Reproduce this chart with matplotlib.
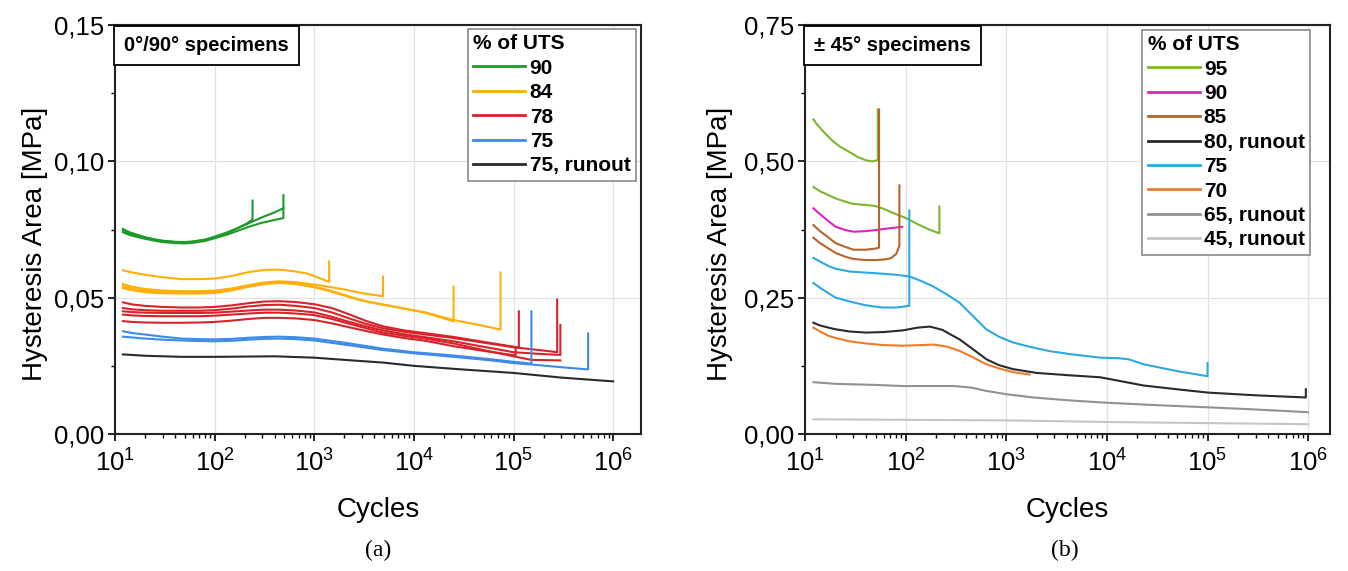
import matplotlib
matplotlib.use("Agg")
import matplotlib.pyplot as plt
import matplotlib.transforms as mtransforms
from matplotlib.ticker import NullFormatter, LogLocator, MultipleLocator, FuncFormatter

plt.rcParams['font.family'] = ['Liberation Sans', 'DejaVu Sans']

# ---------------- Panel (a): 0/90 specimens ----------------
N90_a = [12, 14, 17, 20, 25, 30, 40, 50, 60, 80, 100, 130, 170, 210, 240, 240]
H90_a = [0.0745, 0.0735, 0.0727, 0.0720, 0.0713, 0.0708, 0.0704, 0.0703, 0.0705, 0.0712, 0.0720, 0.0735, 0.0755, 0.0772, 0.0787, 0.0856]
N90_b = [12, 14, 17, 20, 25, 30, 40, 50, 60, 80, 100, 130, 170, 220, 300, 400, 490, 490]
H90_b = [0.0752, 0.0740, 0.0730, 0.0722, 0.0714, 0.0709, 0.0705, 0.0704, 0.0706, 0.0713, 0.0724, 0.0738, 0.0755, 0.0773, 0.0795, 0.0813, 0.0828, 0.0876]
N90_c = [12, 14, 17, 20, 25, 30, 40, 50, 60, 80, 100, 130, 170, 220, 300, 400, 490, 490]
H90_c = [0.0740, 0.0730, 0.0722, 0.0716, 0.0709, 0.0704, 0.0700, 0.0699, 0.0701, 0.0708, 0.0718, 0.0730, 0.0745, 0.0760, 0.0775, 0.0785, 0.0792, 0.0828]

N84_a = [12, 15, 20, 30, 47, 70, 100, 150, 220, 316, 450, 650, 870, 1100, 1410, 1410]
H84_a = [0.0600, 0.0592, 0.0584, 0.0575, 0.0568, 0.0568, 0.0570, 0.0580, 0.0594, 0.0602, 0.0603, 0.0596, 0.0588, 0.0573, 0.0558, 0.0633]
N84_b = [12, 15, 20, 30, 47, 70, 100, 150, 220, 316, 450, 650, 1000, 1400, 2000, 3000, 4900, 4900]
H84_b = [0.0550, 0.0540, 0.0532, 0.0526, 0.0524, 0.0524, 0.0526, 0.0534, 0.0546, 0.0556, 0.0560, 0.0557, 0.0548, 0.0540, 0.0530, 0.0517, 0.0505, 0.0577]
N84_c = [12, 15, 20, 30, 47, 70, 100, 150, 220, 316, 450, 650, 1000, 1400, 2000, 3000, 4900, 8000, 13000, 25000, 25000]
H84_c = [0.0542, 0.0533, 0.0526, 0.0520, 0.0518, 0.0518, 0.0520, 0.0530, 0.0542, 0.0552, 0.0556, 0.0552, 0.0540, 0.0528, 0.0510, 0.0490, 0.0475, 0.0460, 0.0445, 0.0413, 0.0540]
N84_d = [12, 15, 20, 30, 47, 70, 100, 150, 220, 316, 450, 650, 1000, 1400, 2000, 3000, 4900, 8000, 13000, 25000, 45000, 74000, 74000]
H84_d = [0.0535, 0.0527, 0.0520, 0.0516, 0.0515, 0.0515, 0.0517, 0.0527, 0.0540, 0.0550, 0.0554, 0.0550, 0.0538, 0.0525, 0.0508, 0.0490, 0.0474, 0.0460, 0.0446, 0.0418, 0.0400, 0.0383, 0.0592]

N78_a = [12, 15, 20, 30, 47, 70, 100, 150, 220, 316, 450, 650, 1000, 1500, 2200, 3300, 4900, 8000, 13000, 25000, 50000, 113000, 113000]
H78_a = [0.0483, 0.0475, 0.0470, 0.0466, 0.0464, 0.0464, 0.0466, 0.0472, 0.0480, 0.0486, 0.0487, 0.0484, 0.0476, 0.0462, 0.0440, 0.0415, 0.0395, 0.0380, 0.0370, 0.0356, 0.0338, 0.0317, 0.0450]
N78_b = [12, 15, 20, 30, 47, 70, 100, 150, 220, 316, 450, 650, 1000, 1500, 2200, 3300, 4900, 8000, 13000, 25000, 50000, 100000, 180000, 274000, 274000]
H78_b = [0.0462, 0.0457, 0.0454, 0.0452, 0.0452, 0.0452, 0.0454, 0.0460, 0.0468, 0.0473, 0.0474, 0.0470, 0.0462, 0.0446, 0.0425, 0.0404, 0.0388, 0.0375, 0.0365, 0.0352, 0.0335, 0.0318, 0.0308, 0.0300, 0.0493]
N78_c = [12, 15, 20, 30, 47, 70, 100, 150, 220, 316, 450, 650, 1000, 1500, 2200, 3300, 4900, 8000, 13000, 25000, 50000, 100000, 180000, 295000, 295000]
H78_c = [0.0450, 0.0447, 0.0445, 0.0444, 0.0444, 0.0444, 0.0445, 0.0449, 0.0453, 0.0456, 0.0456, 0.0453, 0.0446, 0.0430, 0.0412, 0.0395, 0.0380, 0.0366, 0.0355, 0.0340, 0.0320, 0.0300, 0.0294, 0.0290, 0.0400]
N78_d = [12, 15, 20, 30, 47, 70, 100, 150, 220, 316, 450, 650, 1000, 1500, 2200, 3300, 4900, 8000, 13000, 25000, 50000, 100000, 150000, 295000]
H78_d = [0.0438, 0.0435, 0.0433, 0.0432, 0.0432, 0.0432, 0.0434, 0.0438, 0.0442, 0.0445, 0.0445, 0.0442, 0.0436, 0.0422, 0.0405, 0.0388, 0.0372, 0.0360, 0.0350, 0.0332, 0.0308, 0.0285, 0.0272, 0.0270]
N78_e = [12, 15, 20, 30, 47, 70, 100, 150, 220, 316, 450, 650, 1000, 1500, 2200, 3300, 4900, 8000, 13000, 25000, 50000, 105000, 105000]
H78_e = [0.0414, 0.0411, 0.0409, 0.0408, 0.0408, 0.0409, 0.0411, 0.0416, 0.0422, 0.0426, 0.0426, 0.0424, 0.0418, 0.0406, 0.0392, 0.0378, 0.0365, 0.0352, 0.0342, 0.0322, 0.0305, 0.0288, 0.0312]

N75_a = [12, 15, 20, 30, 47, 70, 100, 150, 220, 316, 450, 650, 1000, 2000, 4900, 10000, 25000, 60000, 100000, 151000, 151000]
H75_a = [0.0377, 0.0370, 0.0365, 0.0357, 0.0350, 0.0348, 0.0347, 0.0349, 0.0353, 0.0356, 0.0357, 0.0355, 0.0350, 0.0335, 0.0313, 0.0300, 0.0288, 0.0274, 0.0265, 0.0258, 0.0450]
N75_b = [12, 15, 20, 30, 47, 70, 100, 150, 220, 316, 450, 650, 1000, 2000, 4900, 10000, 25000, 60000, 100000, 151000, 300000, 560000, 560000]
H75_b = [0.0357, 0.0354, 0.0350, 0.0346, 0.0343, 0.0341, 0.0340, 0.0342, 0.0346, 0.0349, 0.0350, 0.0348, 0.0343, 0.0328, 0.0308, 0.0296, 0.0283, 0.0270, 0.0260, 0.0255, 0.0245, 0.0237, 0.0369]

N75r = [12, 20, 47, 100, 200, 400, 1000, 2000, 4900, 10000, 30000, 100000, 300000, 1000000]
H75r = [0.0292, 0.0287, 0.0283, 0.0283, 0.0284, 0.0285, 0.0280, 0.0272, 0.0262, 0.0250, 0.0237, 0.0224, 0.0207, 0.0193]

labels_a = ['90', '84', '78', '75', '75, runout']
colors_a = ['#1E9A28', '#FFAE0A', '#D8232A', '#3D8BE6', '#2A2A2A']

# ---------------- Panel (b): +-45 specimens ----------------
N95_a = [12, 13, 15, 18.5, 22, 27.5, 33, 40, 46, 52.5, 52.5]
H95_a = [0.577, 0.568, 0.555, 0.538, 0.527, 0.517, 0.508, 0.502, 0.500, 0.502, 0.595]
N95_b = [12, 14, 17, 20, 25, 30, 40, 50, 60, 75, 100, 130, 170, 215, 215]
H95_b = [0.453, 0.445, 0.438, 0.432, 0.426, 0.422, 0.420, 0.418, 0.413, 0.405, 0.396, 0.385, 0.375, 0.368, 0.417]

N90m = [12, 14, 17, 20, 25, 30, 40, 50, 60, 75, 92]
H90m = [0.414, 0.403, 0.390, 0.380, 0.374, 0.371, 0.372, 0.374, 0.376, 0.378, 0.380]

N85_a = [12, 14, 17, 20, 25, 30, 40, 50, 54, 54]
H85_a = [0.383, 0.372, 0.360, 0.350, 0.343, 0.338, 0.338, 0.340, 0.342, 0.595]
N85_b = [12, 14, 17, 20, 25, 30, 40, 50, 60, 70, 80, 86, 86]
H85_b = [0.360, 0.350, 0.340, 0.332, 0.325, 0.321, 0.319, 0.319, 0.320, 0.322, 0.330, 0.345, 0.456]

N80r = [12, 14, 17, 20, 27.5, 40, 60, 93, 130, 173, 230, 345, 460, 632, 850, 1160, 2000, 4000, 8600, 23000, 50000, 100000, 300000, 950000, 950000]
H80r = [0.204, 0.199, 0.195, 0.192, 0.188, 0.186, 0.187, 0.190, 0.195, 0.197, 0.191, 0.173, 0.156, 0.137, 0.126, 0.119, 0.112, 0.108, 0.104, 0.089, 0.082, 0.076, 0.071, 0.067, 0.082]

N75c_a = [12, 14, 17, 20, 27.5, 40, 58, 80, 108, 140, 185, 250, 340, 460, 630, 850, 1160, 1700, 2680, 4500, 8600, 13000, 16500, 23000, 51000, 100000, 100000]
H75c_a = [0.323, 0.316, 0.308, 0.303, 0.298, 0.296, 0.294, 0.292, 0.289, 0.281, 0.271, 0.257, 0.241, 0.217, 0.192, 0.178, 0.168, 0.160, 0.152, 0.146, 0.140, 0.139, 0.137, 0.128, 0.115, 0.106, 0.130]
N75c_b = [12, 14, 17, 20, 27.5, 40, 58, 80, 108, 108]
H75c_b = [0.277, 0.268, 0.258, 0.250, 0.243, 0.236, 0.232, 0.232, 0.235, 0.410]

N70 = [12, 14, 17, 20, 27.5, 40, 60, 93, 140, 190, 260, 345, 460, 630, 850, 1200, 1700]
H70 = [0.195, 0.188, 0.180, 0.176, 0.170, 0.166, 0.163, 0.162, 0.163, 0.164, 0.160, 0.152, 0.141, 0.128, 0.120, 0.113, 0.109]

N65r = [12, 20, 50, 93, 200, 300, 450, 630, 1000, 1850, 4000, 8600, 30000, 100000, 300000, 1000000]
H65r = [0.095, 0.092, 0.090, 0.088, 0.088, 0.088, 0.085, 0.079, 0.073, 0.067, 0.062, 0.058, 0.053, 0.049, 0.045, 0.040]

N45r = [12, 100, 1000, 10000, 100000, 1000000]
H45r = [0.027, 0.026, 0.025, 0.022, 0.020, 0.018]

labels_b = ['95', '90', '85', '80, runout', '75', '70', '65, runout', '45, runout']
colors_b = ['#7DB52E', '#E021C4', '#B5652A', '#2A2A2A', '#2DA9E1', '#EE7B2C', '#8E9396', '#C3C6C8']

# ---------------- Figure ----------------
fig = plt.figure(figsize=(13.48, 5.71), dpi=100)
axA = fig.add_axes([0.0853, 0.2399, 0.3902, 0.7163])
axB = fig.add_axes([0.5975, 0.2399, 0.3891, 0.7163])

lw = 1.5
groupsA = [
    [(N90_a, H90_a), (N90_b, H90_b), (N90_c, H90_c)],
    [(N84_a, H84_a), (N84_b, H84_b), (N84_c, H84_c), (N84_d, H84_d)],
    [(N78_a, H78_a), (N78_b, H78_b), (N78_c, H78_c), (N78_d, H78_d), (N78_e, H78_e)],
    [(N75_a, H75_a), (N75_b, H75_b)],
    [(N75r, H75r)],
]
groupsB = [
    [(N95_a, H95_a), (N95_b, H95_b)],
    [(N90m, H90m)],
    [(N85_a, H85_a), (N85_b, H85_b)],
    [(N80r, H80r)],
    [(N75c_a, H75c_a), (N75c_b, H75c_b)],
    [(N70, H70)],
    [(N65r, H65r)],
    [(N45r, H45r)],
]


def draw(ax, groups, labels, colors):
    handles = []
    for grp, lab, col in zip(groups, labels, colors):
        for i, (n, h) in enumerate(grp):
            ln, = ax.plot(n, h, color=col, lw=lw, label=lab if i == 0 else None)
            if i == 0:
                handles.append(ln)
    return handles


hA = draw(axA, groupsA, labels_a, colors_a)
hB = draw(axB, groupsB, labels_b, colors_b)


def style(ax, ymax, ystep, xmax, ylab_x):
    ax.set_xscale('log')
    ax.set_xlim(10, xmax)
    ax.set_ylim(0, ymax)
    ax.yaxis.set_major_locator(MultipleLocator(ystep))
    ax.yaxis.set_minor_locator(MultipleLocator(ystep / 2))
    ax.yaxis.set_major_formatter(FuncFormatter(lambda v, p: f"{v:.2f}".replace('.', ',')))
    ax.xaxis.set_major_locator(LogLocator(base=10, numticks=10))
    ax.xaxis.set_minor_locator(LogLocator(base=10, subs=range(2, 10), numticks=20))
    ax.xaxis.set_minor_formatter(NullFormatter())
    ax.tick_params(axis='both', which='major', direction='out', length=5, width=1.2,
                   labelsize=18.5, pad=3)
    ax.tick_params(axis='both', which='minor', direction='out', length=3, width=1.0)
    ax.tick_params(axis='x', which='major', pad=6)
    for s in ax.spines.values():
        s.set_linewidth(1.5)
        s.set_color('#222222')
    ax.grid(True, which='major', color='#e2e2e2', lw=0.9)
    ax.set_axisbelow(True)
    ax.set_xlabel('Cycles', fontsize=20, labelpad=15)
    ax.set_ylabel('Hysteresis Area [MPa]', fontsize=20)
    ax.yaxis.set_label_coords(ylab_x, 0.465)


style(axA, 0.15, 0.05, 1.9e6, -0.128)
style(axB, 0.75, 0.25, 1.65e6, -0.138)

for ax, txt in ((axA, '0°/90° specimens'), (axB, '± 45° specimens')):
    tr = mtransforms.offset_copy(ax.transAxes, fig=fig, x=9, y=-11, units='dots')
    ax.text(0.0, 1.0, txt, transform=tr, ha='left', va='top',
            fontsize=14.5, fontweight='bold',
            bbox=dict(boxstyle='square,pad=0.5', fc='white', ec='black', lw=1.3))

legend_kw = dict(loc='upper right', title='% of UTS', alignment='left',
                 prop={'weight': 'bold', 'size': 15},
                 title_fontproperties={'weight': 'bold', 'size': 15},
                 frameon=True, fancybox=False, edgecolor='#8a8a8a', framealpha=1,
                 handlelength=2.5, handletextpad=0.2, labelspacing=0.26,
                 borderpad=0.25, borderaxespad=0.0)
legA = axA.legend(handles=hA, bbox_to_anchor=(0.99, 0.99), **legend_kw)
legB = axB.legend(handles=hB, bbox_to_anchor=(0.962, 0.988), **legend_kw)
for leg in (legA, legB):
    leg.get_frame().set_linewidth(1.2)
    for l in leg.get_lines():
        l.set_linewidth(2.0)

fig.text(0.2805, 0.036, '(a)', ha='center', va='center', fontsize=17, family='Liberation Serif')
fig.text(0.790, 0.036, '(b)', ha='center', va='center', fontsize=17, family='Liberation Serif')

fig.savefig('out.png', dpi=100)
